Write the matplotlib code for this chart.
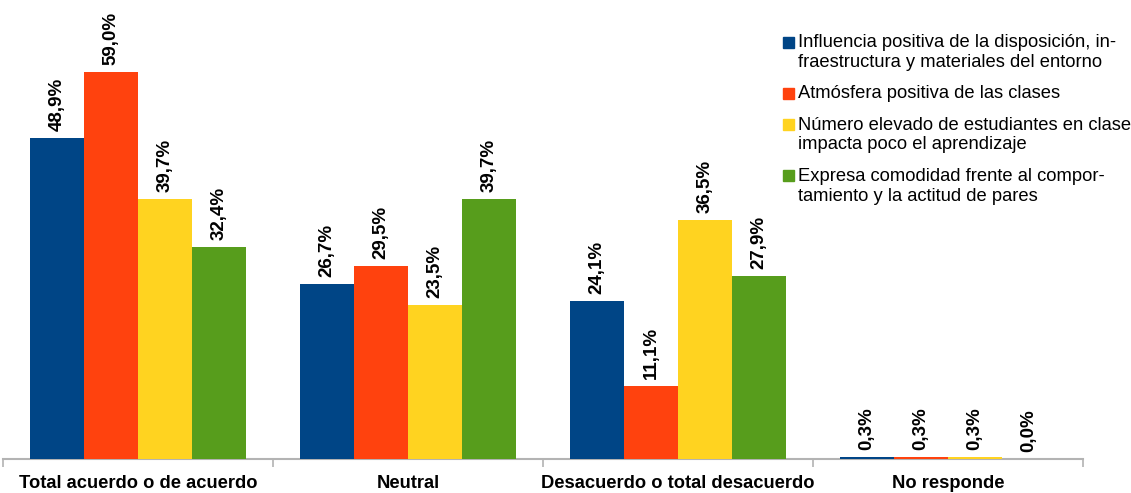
import numpy as np
import matplotlib.pyplot as plt
from matplotlib.patches import Rectangle

plt.rcParams['font.family'] = ['Liberation Sans', 'DejaVu Sans']

categories = ['Total acuerdo o de acuerdo', 'Neutral',
              'Desacuerdo o total desacuerdo', 'No responde']
series_names = ['Influencia positiva de la disposición, in-\nfraestructura y materiales del entorno',
                'Atmósfera positiva de las clases',
                'Número elevado de estudiantes en clase\nimpacta poco el aprendizaje',
                'Expresa comodidad frente al compor-\ntamiento y la actitud de pares']
influencia = [48.9, 26.7, 24.1, 0.3]
atmosfera = [59.0, 29.5, 11.1, 0.3]
numero = [39.7, 23.5, 36.5, 0.3]
comodidad = [32.4, 39.7, 27.9, 0.0]
series = [influencia, atmosfera, numero, comodidad]
colors = ['#004586', '#ff420e', '#ffd320', '#579d1c']

W, H = 1131, 493
fig = plt.figure(figsize=(W / 100, H / 100), dpi=100)
ax = fig.add_axes([3 / W, 34 / H, 1080 / W, 459 / H])

x = np.arange(len(categories))
width = 0.2
for j, (vals, color) in enumerate(zip(series, colors)):
    bars = ax.bar(x + (j - 1.5) * width, vals, width, color=color,
                  linewidth=0, zorder=3)
    for b, v in zip(bars, vals):
        ax.annotate(f'{v:.1f}%'.replace('.', ','),
                    (b.get_x() + b.get_width() / 2, v),
                    xytext=(0, 5), textcoords='offset points',
                    rotation=90, ha='center', va='bottom',
                    fontsize=13.5, fontweight='bold', annotation_clip=False)

ax.set_xlim(-0.5, 3.5)
ax.set_ylim(0, 70)
ax.set_yticks([])
for s in ['left', 'right', 'top']:
    ax.spines[s].set_visible(False)
ax.spines['bottom'].set_color('#b3b3b3')
ax.spines['bottom'].set_linewidth(1.5)

# group separators as major ticks, category names as minor tick labels
ax.set_xticks(np.arange(-0.5, len(categories), 1.0))
ax.set_xticklabels([])
ax.tick_params(axis='x', which='major', length=6, width=1.2, color='#b3b3b3')
ax.set_xticks(x, minor=True)
ax.set_xticklabels(categories, minor=True, fontsize=13.2, fontweight='bold')
ax.tick_params(axis='x', which='minor', length=0, pad=11.5)

# legend, drawn by hand so each marker sits on the first line of its label
def px(xp, yp):
    return xp / W, 1 - yp / H

y = 42
for name, color in zip(series_names, colors):
    mx, my = px(783, y + 5.5)
    fig.patches.append(Rectangle((mx, my), 11 / W, 11 / H, color=color,
                                 transform=fig.transFigure, figure=fig))
    tx, ty = px(798, y - 8)
    fig.text(tx, ty, name, fontsize=13.2, va='top', ha='left', linespacing=1.23)
    y += name.count('\n') * 20.5 + 31

fig.savefig('out.png', dpi=100)
